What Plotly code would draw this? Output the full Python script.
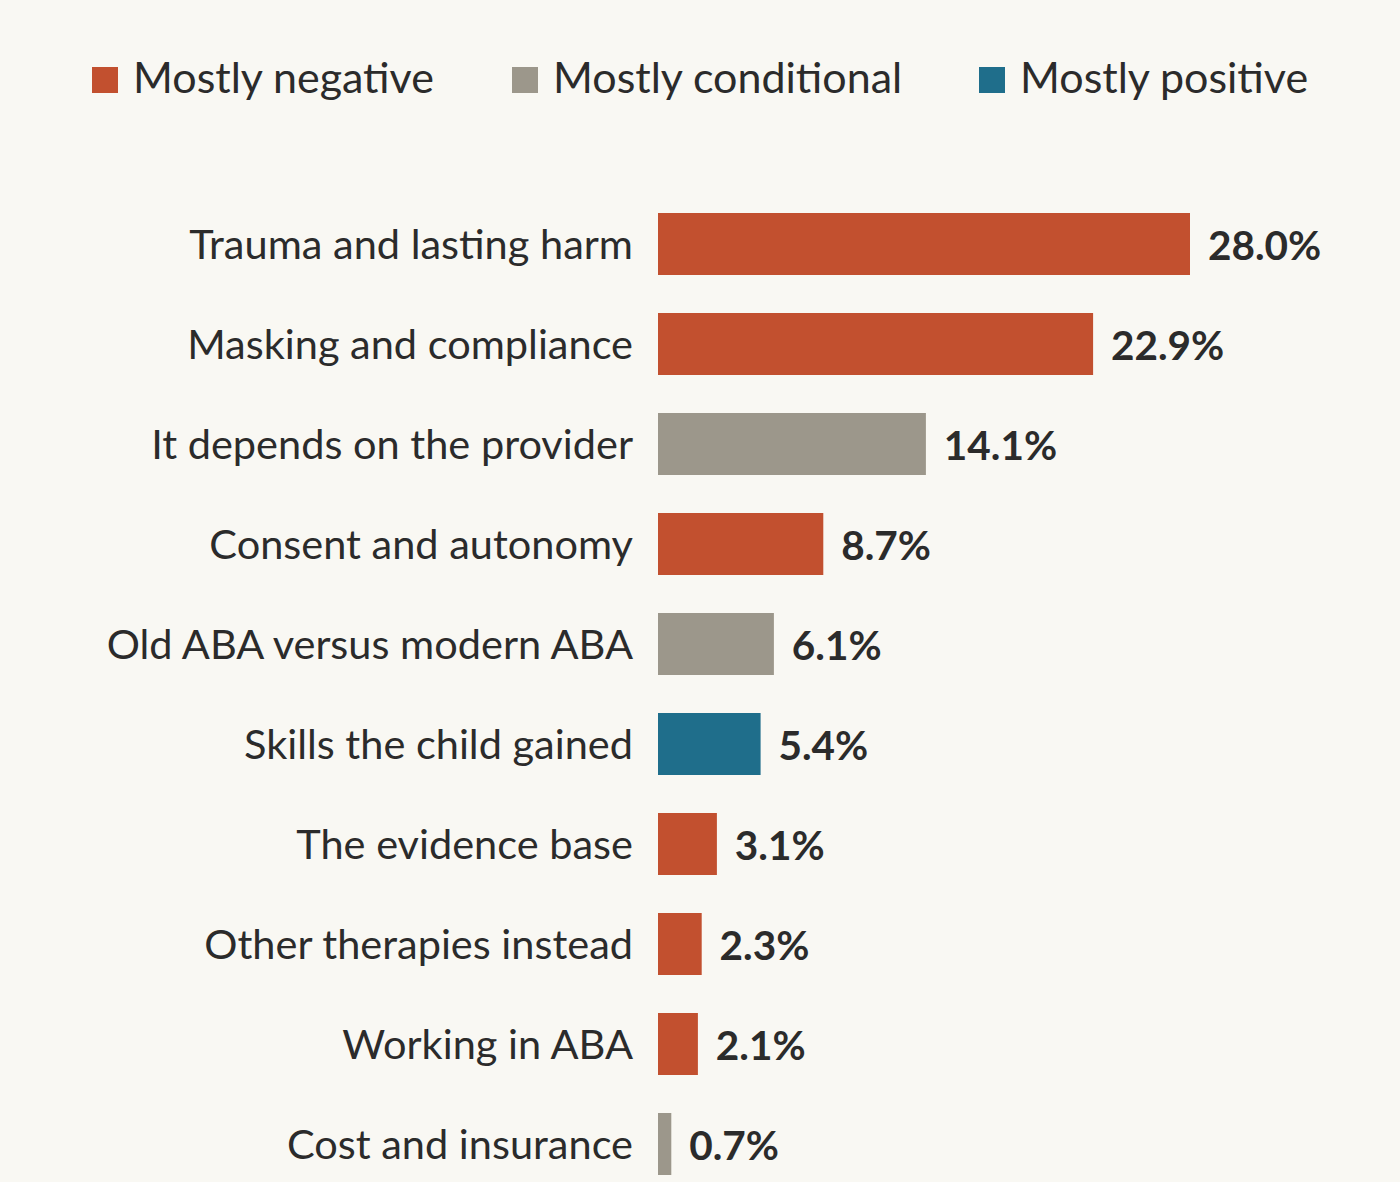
import plotly.graph_objects as go

# data
categories = [
    "Trauma and lasting harm",
    "Masking and compliance",
    "It depends on the provider",
    "Consent and autonomy",
    "Old ABA versus modern ABA",
    "Skills the child gained",
    "The evidence base",
    "Other therapies instead",
    "Working in ABA",
    "Cost and insurance",
]
shares = [28.0, 22.9, 14.1, 8.7, 6.1, 5.4, 3.1, 2.3, 2.1, 0.7]
tone = [
    "Mostly negative", "Mostly negative", "Mostly conditional", "Mostly negative",
    "Mostly conditional", "Mostly positive", "Mostly negative", "Mostly negative",
    "Mostly negative", "Mostly conditional",
]
tone_names = ["Mostly negative", "Mostly conditional", "Mostly positive"]
tone_colors = {
    "Mostly negative": "#c2502f",
    "Mostly conditional": "#9c978b",
    "Mostly positive": "#1f6e8b",
}

BG = "#f9f8f3"
INK = "#2b2b2b"
FONT = "Lato, 'Noto Sans', sans-serif"

W, H = 1400, 1182
LEFT, TOP = 658, 194
PX_PER_PCT = 19.0
plot_w = W - LEFT

fig = go.Figure()
fig.add_trace(go.Bar(
    x=shares,
    y=categories,
    orientation="h",
    marker=dict(color=[tone_colors[t] for t in tone], line=dict(width=0)),
    text=["\u00a0\u2009" + f"{v:.1f}%" for v in shares],
    textposition="outside",
    textfont=dict(family=FONT, size=40.5, color=INK, weight="bold"),
    cliponaxis=False,
    width=0.62,
    hoverinfo="skip",
))

# legend drawn by hand so the swatches can be large
def paper_x(px):
    return (px - LEFT) / plot_w

legend_sq = [92, 512, 979]
for name, sx in zip(tone_names, legend_sq):
    fig.add_shape(
        type="rect", xref="paper", yref="paper",
        x0=paper_x(sx), x1=paper_x(sx + 26),
        y0=1 + (TOP - 93) / (H - TOP), y1=1 + (TOP - 67) / (H - TOP),
        fillcolor=tone_colors[name], line=dict(width=0),
    )
    fig.add_annotation(
        text=name, xref="paper", yref="paper",
        x=paper_x(sx + 39), y=1 + (TOP - 77) / (H - TOP),
        xanchor="left", yanchor="middle", showarrow=False,
        font=dict(family=FONT, size=43, color=INK),
    )

fig.update_layout(
    width=W, height=H,
    paper_bgcolor=BG, plot_bgcolor=BG,
    margin=dict(l=LEFT, r=0, t=TOP, b=0),
    showlegend=False,
    font=dict(family=FONT, color=INK),
    xaxis=dict(range=[0, plot_w / PX_PER_PCT], visible=False),
    yaxis=dict(
        categoryorder="array", categoryarray=categories,
        range=[len(categories) - 1 + 0.38, -0.5],
        showgrid=False, zeroline=False, showline=False, ticks="",
        tickfont=dict(family=FONT, size=41.5, color=INK),
        ticklabelstandoff=24,
    ),
)

fig.write_html("out.html", config={"displayModeBar": False},
               post_script="document.body.style.margin='0';")
